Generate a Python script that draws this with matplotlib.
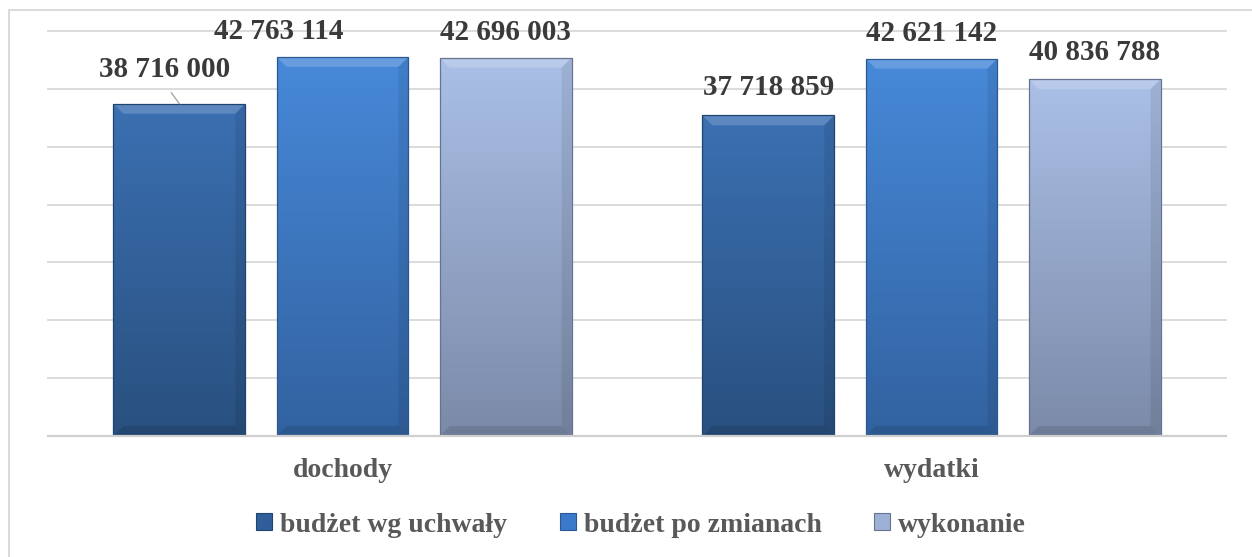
"""Budżet: dochody i wydatki – bar chart with gradient bars."""
import matplotlib
matplotlib.use("Agg")
import matplotlib.pyplot as plt
import numpy as np
from matplotlib.colors import LinearSegmentedColormap
from matplotlib.patches import Patch, Polygon, Rectangle

plt.rcParams.update({
    "font.family": "Liberation Serif",
    "font.weight": "bold",
})

# ---- data ----------------------------------------------------------------
categories = ["dochody", "wydatki"]
series = ["budżet wg uchwały", "budżet po zmianach", "wykonanie"]
uchwala = [38716000, 37718859]
po_zmianach = [42763114, 42621142]
wykonanie = [42696003, 40836788]

# ---- style ---------------------------------------------------------------
YMIN, YMAX, YSTEP = 10_000_000, 45_000_000, 5_000_000
TOP = ["#3b70b2", "#4789d9", "#abc0e7"]
BOTTOM = ["#29507f", "#3262a0", "#7b8aa8"]
EDGE = ["#1f4470", "#2b5891", "#66748f"]
LEGEND_FACE = ["#2f5e9a", "#3b7acb", "#9db0d6"]
GRID = "#d9d9d9"
LABEL_COL = "#3a3a3a"
TEXT_COL = "#595959"
W, STEP = 0.224, 0.277
# pixel offsets (dx, dy) of value labels relative to the bar top
SHIFT = {(0, 0): (-15, 34), (0, 1): (-64, 25), (0, 2): (0, 25),
         (1, 0): (0, 28), (1, 1): (0, 25), (1, 2): (0, 27)}

fig = plt.figure(figsize=(12.52, 5.57), dpi=100)
ax = fig.add_axes([48 / 1252, 121 / 557, 1178 / 1252, 405 / 557])
ax.set_xlim(-0.5, 1.5)
ax.set_ylim(YMIN, YMAX)

# outer chart border (cut off on the right and bottom like the source)
fig.patches.append(Rectangle((9 / 1252, -0.05), 1.2, 1.05 - 10 / 557,
                             transform=fig.transFigure, fill=False,
                             edgecolor=GRID, lw=1.4))

for yv in np.arange(YMIN + YSTEP, YMAX + 1, YSTEP):
    ax.axhline(yv, color=GRID, lw=1.3, zorder=0, clip_on=False)
ax.axhline(YMIN, color="#cfcfcf", lw=1.6, zorder=4, clip_on=False)

px_x = 2.0 / 1178
px_y = (YMAX - YMIN) / 405
xs = np.arange(len(categories))
grad = np.linspace(1, 0, 256).reshape(-1, 1)

for s, vals in enumerate([uchwala, po_zmianach, wykonanie]):
    cmap = LinearSegmentedColormap.from_list(f"g{s}", [BOTTOM[s], TOP[s]])
    bars = ax.bar(xs + (s - 1) * STEP, vals, W,
                  facecolor="none", edgecolor=EDGE[s], lw=0.9, zorder=3)
    for c, (b, v) in enumerate(zip(bars, vals)):
        x0, x1 = b.get_x(), b.get_x() + b.get_width()
        im = ax.imshow(grad, extent=[x0, x1, YMIN, v], aspect="auto",
                       cmap=cmap, zorder=2, interpolation="bicubic")
        im.set_clip_path(b)
        # bevel: lighter top, darker bottom / right side
        bx, by = 10 * px_x, 10 * px_y
        ax.add_patch(Polygon([(x0, v), (x1, v), (x1 - bx, v - by), (x0 + bx, v - by)],
                             closed=True, facecolor="white", alpha=0.18, lw=0, zorder=2.5))
        ax.add_patch(Polygon([(x0, YMIN), (x1, YMIN), (x1 - bx, YMIN + by), (x0 + bx, YMIN + by)],
                             closed=True, facecolor="black", alpha=0.10, lw=0, zorder=2.5))
        ax.add_patch(Polygon([(x1, v), (x1, YMIN), (x1 - bx, YMIN + by), (x1 - bx, v - by)],
                             closed=True, facecolor="black", alpha=0.08, lw=0, zorder=2.5))
        dx, dy = SHIFT[(c, s)]
        xc = x0 + W / 2
        arrow = None
        if (c, s) == (0, 0):
            arrow = dict(arrowstyle="-", color="#a6a6a6", lw=1.0,
                         shrinkA=6, shrinkB=0, relpos=(0.5, 0))
        ax.annotate(f"{v:,}".replace(",", " "), xy=(xc, v),
                    xytext=(dx, dy), textcoords="offset pixels",
                    ha="center", va="center", fontsize=21, fontweight="bold",
                    color=LABEL_COL, arrowprops=arrow, zorder=5)

ax.set_xticks(xs)
ax.set_xticklabels(categories, fontsize=20, fontweight="bold", color=TEXT_COL)
ax.tick_params(axis="x", length=0, pad=16)
ax.set_yticks([])
for sp in ax.spines.values():
    sp.set_visible(False)

handles = [Patch(facecolor=LEGEND_FACE[i], edgecolor=EDGE[i], lw=0.8) for i in range(3)]
fig.legend(handles, series, loc="center", bbox_to_anchor=(641 / 1252, 1 - 525 / 557),
           ncol=3, frameon=False, handlelength=0.58, handleheight=0.58,
           handletextpad=0.28, columnspacing=1.9, labelcolor=TEXT_COL,
           prop={"family": "Liberation Serif", "weight": "bold", "size": 20})

fig.savefig("out.png", dpi=100)
